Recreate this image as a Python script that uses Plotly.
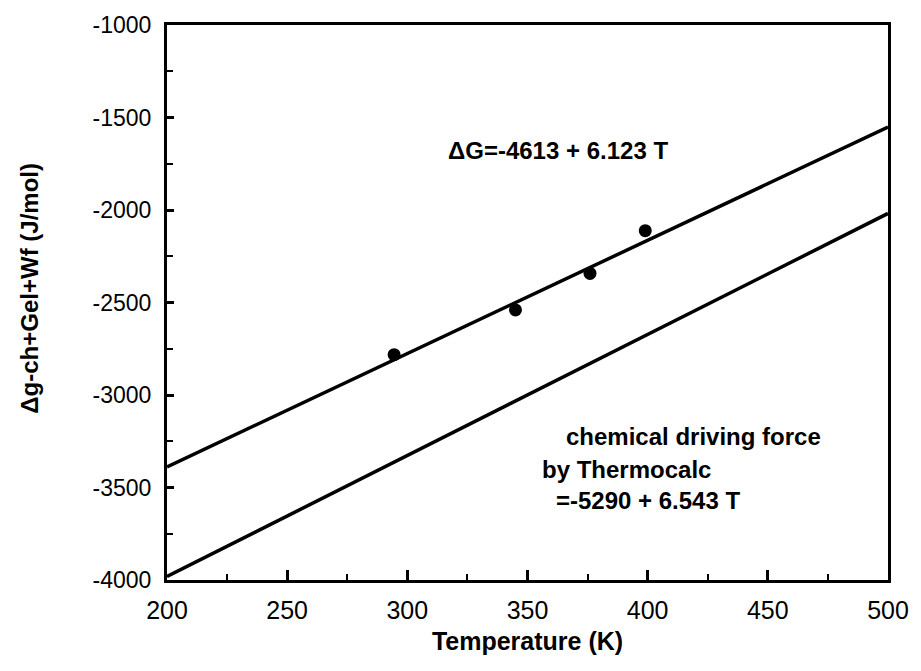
import plotly.graph_objects as go

# Data
temps = [294.5, 345, 376, 399]
dg_measured = [-2782, -2540, -2343, -2112]

line_T = [200, 500]
fit_intercept, fit_slope = -4613, 6.123
thermo_intercept, thermo_slope = -5290, 6.543
fit_vals = [fit_intercept + fit_slope * t for t in line_T]
thermo_vals = [thermo_intercept + thermo_slope * t for t in line_T]

x_ticks = [200, 250, 300, 350, 400, 450, 500]
y_ticks = [-1000, -1500, -2000, -2500, -3000, -3500, -4000]
y_ticktext = [str(v) for v in y_ticks]

FONT = "Liberation Sans, Arial, sans-serif"

fig = go.Figure()
fig.add_trace(go.Scatter(x=line_T, y=fit_vals, mode="lines",
                         line=dict(color="black", width=3.5), showlegend=False))
fig.add_trace(go.Scatter(x=line_T, y=thermo_vals, mode="lines",
                         line=dict(color="black", width=3.5), showlegend=False))
fig.add_trace(go.Scatter(x=temps, y=dg_measured, mode="markers",
                         marker=dict(color="black", size=13, symbol="circle"),
                         showlegend=False))

ann_font = dict(family=FONT, size=24, color="black")
fig.add_annotation(x=316, y=-1680, text="<b>ΔG=-4613 + 6.123 T</b>", showarrow=False,
                   xanchor="left", yanchor="middle", font=ann_font)
fig.add_annotation(x=365, y=-3225, text="<b>chemical driving force</b>", showarrow=False,
                   xanchor="left", yanchor="middle", font=ann_font)
fig.add_annotation(x=355, y=-3405, text="<b>by Thermocalc</b>", showarrow=False,
                   xanchor="left", yanchor="middle", font=ann_font)
fig.add_annotation(x=361, y=-3570, text="<b>=-5290 + 6.543 T</b>", showarrow=False,
                   xanchor="left", yanchor="middle", font=ann_font)

# y-axis title placed as rotated annotation (sits slightly above plot centre in the reference)
fig.add_annotation(x=0, xref="paper", y=0.525, yref="paper", xshift=-137,
                   text="<b>Δg-ch+Gel+Wf (J/mol)</b>", textangle=-90, showarrow=False,
                   xanchor="center", yanchor="middle", font=dict(family=FONT, size=24, color="black"))

fig.update_xaxes(range=[200, 500], tickvals=x_ticks, ticks="inside", ticklen=10, tickwidth=3,
                 tickcolor="black", showline=True, linecolor="black", linewidth=3, mirror=True,
                 showgrid=False, zeroline=False,
                 minor=dict(dtick=25, ticks="inside", ticklen=6, tickwidth=2, tickcolor="black", showgrid=False),
                 tickfont=dict(family=FONT, size=25, color="black"), ticklabelstandoff=6,
                 title=dict(text="<b>Temperature (K)</b>", font=dict(family=FONT, size=25, color="black"), standoff=10))
fig.update_yaxes(range=[-4000, -1000], tickvals=y_ticks, ticktext=y_ticktext, ticks="inside", ticklen=7,
                 tickwidth=3, tickcolor="black", showline=True, linecolor="black", linewidth=3, mirror=True,
                 showgrid=False, zeroline=False,
                 minor=dict(dtick=250, ticks="inside", ticklen=6, tickwidth=2, tickcolor="black", showgrid=False),
                 tickfont=dict(family=FONT, size=23, color="black"), ticklabelstandoff=8)

fig.update_layout(width=921, height=671, margin=dict(l=167, r=29, t=21, b=91),
                  plot_bgcolor="white", paper_bgcolor="white")

fig.write_html("out.html")
